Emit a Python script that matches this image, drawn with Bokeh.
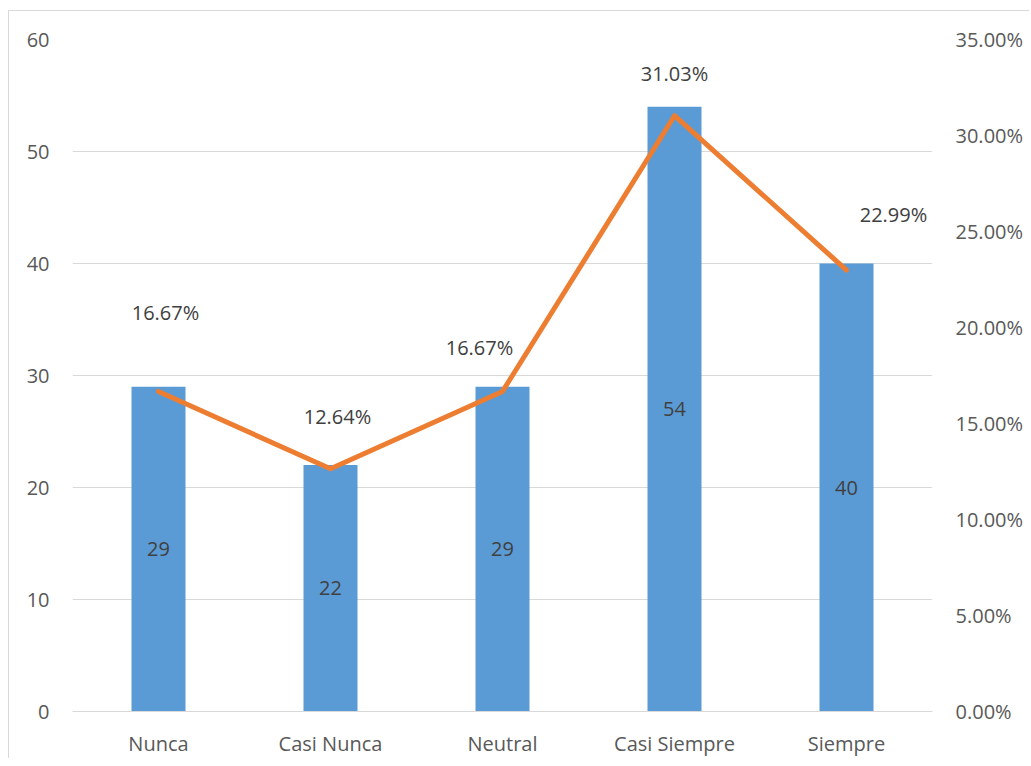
from bokeh.plotting import figure
from bokeh.models import (ColumnDataSource, Range1d, FactorRange, LinearAxis,
                          FixedTicker, NumeralTickFormatter)
from bokeh.core.properties import value
from bokeh.embed import file_html
from bokeh.resources import INLINE

# ---- data ----
categories = ["Nunca", "Casi Nunca", "Neutral", "Casi Siempre", "Siempre"]
counts = [29, 22, 29, 54, 40]
percents = [0.1667, 0.1264, 0.1667, 0.3103, 0.2299]
percent_labels = ["16.67%", "12.64%", "16.67%", "31.03%", "22.99%"]
left_ticks = [0, 10, 20, 30, 40, 50, 60]
right_ticks = [0.0, 0.05, 0.10, 0.15, 0.20, 0.25, 0.30, 0.35]

# label placement (style only)
pct_dx = [7, 7, -23, 0, 47]
pct_dy = [-79, -52, -44, -42, -56]

FONT = "Open Sans"
BAR = "#5B9BD5"
LINE = "#ED7D31"
AXIS_TXT = "#595959"
LBL_TXT = "#404040"
GRID = "#D9D9D9"

p = figure(width=1021, height=748, x_range=FactorRange(*categories, range_padding=0),
           y_range=Range1d(0, 60), output_backend="svg", toolbar_location=None,
           min_border_left=63, min_border_right=98, min_border_top=28, min_border_bottom=47)
p.extra_y_ranges = {"pct": Range1d(0, 0.35)}
p.outline_line_color = None
p.background_fill_color = "white"
p.border_fill_color = "white"
p.styles = {"border-left": "1px solid #d9d9d9", "border-top": "1px solid #d9d9d9",
            "margin-left": "8px", "margin-top": "10px"}

src = ColumnDataSource(dict(cat=categories, cnt=counts, half=[c / 2 for c in counts],
                            cnt_txt=[str(c) for c in counts], pct=percents,
                            pct_txt=percent_labels, dx=pct_dx, dy=pct_dy))

p.vbar(x="cat", top="cnt", width=0.314, source=src, fill_color=BAR, line_color=None)
p.line(x="cat", y="pct", source=src, y_range_name="pct", line_color=LINE,
       line_width=5, line_join="round", line_cap="round")

p.text(x="cat", y="half", text="cnt_txt", source=src, text_font=value(FONT),
       text_font_size="20px", text_color=LBL_TXT, text_align="center",
       text_baseline="middle")
p.text(x="cat", y="pct", text="pct_txt", source=src, y_range_name="pct",
       x_offset="dx", y_offset="dy", text_font=value(FONT), text_font_size="20px",
       text_color=LBL_TXT, text_align="center", text_baseline="middle")

# left axis
yax = p.yaxis[0]
yax.ticker = FixedTicker(ticks=left_ticks)
yax.axis_line_color = None
yax.major_tick_line_color = None
yax.minor_tick_line_color = None
yax.major_tick_out = 0
yax.major_tick_in = 0
yax.major_label_standoff = 23
yax.major_label_text_font = FONT
yax.major_label_text_font_size = "20px"
yax.major_label_text_color = AXIS_TXT

# right axis
rax = LinearAxis(y_range_name="pct", ticker=FixedTicker(ticks=right_ticks),
                 formatter=NumeralTickFormatter(format="0.00%"))
rax.axis_line_color = None
rax.major_tick_line_color = None
rax.minor_tick_line_color = None
rax.major_tick_out = 0
rax.major_tick_in = 0
rax.major_label_standoff = 23
rax.major_label_text_font = FONT
rax.major_label_text_font_size = "20px"
rax.major_label_text_color = AXIS_TXT
p.add_layout(rax, "right")

# x axis
xax = p.xaxis[0]
xax.axis_line_color = GRID
xax.axis_line_width = 1
xax.major_tick_line_color = None
xax.minor_tick_line_color = None
xax.major_tick_out = 0
xax.major_tick_in = 0
xax.major_label_standoff = 18
xax.major_label_text_font = FONT
xax.major_label_text_font_size = "20px"
xax.major_label_text_color = AXIS_TXT

p.xgrid.grid_line_color = None
p.ygrid.grid_line_color = GRID
p.ygrid.grid_line_width = 1

open("out.html", "w").write(file_html(p, INLINE))
